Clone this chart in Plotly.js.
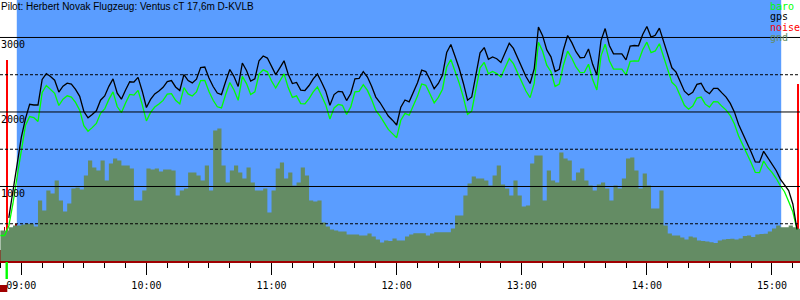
<!DOCTYPE html>
<html><head><meta charset="utf-8">
<script src="https://cdn.plot.ly/plotly-3.0.1.min.js"></script>
<style>html,body{margin:0;padding:0;background:#fff}#chart{width:800px;height:300px}</style>
</head><body><div id="chart"></div>
<script>
const chartTitle = 'Pilot: Herbert Novak Flugzeug: Ventus cT 17,6m D-KVLB';

const times = ["08:50","08:52","08:54","08:56","08:58",
"09:00","09:02","09:04","09:06","09:08","09:10","09:12","09:14","09:16","09:18","09:20","09:22","09:24","09:26","09:28","09:30","09:32","09:34","09:36","09:38","09:40","09:42","09:44","09:46","09:48","09:50","09:52","09:54","09:56","09:58",
"10:00","10:02","10:04","10:06","10:08","10:10","10:12","10:14","10:16","10:18","10:20","10:22","10:24","10:26","10:28","10:30","10:32","10:34","10:36","10:38","10:40","10:42","10:44","10:46","10:48","10:50","10:52","10:54","10:56","10:58",
"11:00","11:02","11:04","11:06","11:08","11:10","11:12","11:14","11:16","11:18","11:20","11:22","11:24","11:26","11:28","11:30","11:32","11:34","11:36","11:38","11:40","11:42","11:44","11:46","11:48","11:50","11:52","11:54","11:56","11:58",
"12:00","12:02","12:04","12:06","12:08","12:10","12:12","12:14","12:16","12:18","12:20","12:22","12:24","12:26","12:28","12:30","12:32","12:34","12:36","12:38","12:40","12:42","12:44","12:46","12:48","12:50","12:52","12:54","12:56","12:58",
"13:00","13:02","13:04","13:06","13:08","13:10","13:12","13:14","13:16","13:18","13:20","13:22","13:24","13:26","13:28","13:30","13:32","13:34","13:36","13:38","13:40","13:42","13:44","13:46","13:48","13:50","13:52","13:54","13:56","13:58",
"14:00","14:02","14:04","14:06","14:08","14:10","14:12","14:14","14:16","14:18","14:20","14:22","14:24","14:26","14:28","14:30","14:32","14:34","14:36","14:38","14:40","14:42","14:44","14:46","14:48","14:50","14:52","14:54","14:56","14:58",
"15:00","15:02","15:04","15:06","15:08","15:10","15:12","15:14"];

const gps = [null,null,578,957,1337,
1660,1912,2104,2094,2094,2437,2516,2475,2426,2267,2346,2387,2375,2303,2210,2006,1922,1965,2016,2158,2216,2344,2445,2253,2171,2296,2406,2402,2465,2279,
2060,2169,2242,2281,2331,2409,2422,2336,2288,2503,2422,2390,2440,2597,2603,2456,2342,2255,2234,2409,2570,2476,2342,2657,2556,2414,2445,2688,2751,2724,
2601,2501,2593,2687,2507,2382,2397,2293,2288,2355,2445,2510,2398,2280,2091,2234,2277,2269,2153,2248,2444,2452,2543,2469,2346,2200,2127,2041,1946,1890,
1825,2064,2161,2136,2271,2393,2561,2543,2432,2312,2382,2496,2798,2905,2747,2583,2386,2158,2201,2516,2793,2865,2707,2738,2715,2664,2794,2922,2853,2730,
2590,2476,2382,2583,3140,3024,2833,2740,2543,2574,2836,3026,2931,2809,2728,2732,2846,2640,2496,2958,3120,2892,2781,2779,2779,2699,2885,2892,2888,3040,
3147,3006,3029,3126,2954,2777,2593,2535,2417,2279,2228,2264,2371,2385,2285,2245,2318,2316,2256,2200,2115,1998,1832,1707,1604,1463,1329,1326,1472,1382,
1304,1215,1100,1027,946,765,423,null];

const baro = [342,342,470,772,1134,
1482,1818,1939,1926,1872,2261,2355,2305,2251,2087,2171,2217,2200,2128,2025,1816,1742,1790,1846,1983,2041,2169,2270,2073,1991,2121,2236,2227,2290,2099,
1880,1994,2067,2106,2156,2239,2247,2156,2108,2328,2242,2215,2270,2422,2423,2276,2157,2070,2054,2234,2395,2296,2157,2477,2381,2234,2270,2508,2566,2539,
2416,2321,2413,2512,2327,2197,2217,2113,2108,2180,2270,2335,2218,2095,1906,2054,2102,2089,1968,2068,2269,2277,2368,2289,2166,2020,1947,1861,1766,1710,
1655,1889,1981,1956,2091,2213,2376,2358,2242,2122,2197,2306,2603,2705,2547,2388,2196,1968,2011,2321,2593,2665,2512,2543,2515,2469,2594,2717,2648,2530,
2390,2281,2192,2388,2935,2814,2628,2540,2343,2374,2631,2816,2721,2604,2528,2532,2641,2435,2296,2753,2910,2687,2576,2579,2574,2499,2680,2687,2683,2835,
2937,2796,2819,2916,2749,2577,2398,2345,2227,2089,2038,2079,2186,2200,2105,2065,2138,2136,2076,2025,1950,1838,1677,1557,1454,1318,1189,1186,1342,1252,
1190,1110,1010,930,800,660,420,null];

const gnd = [409,409,454,476,476,
490,499,499,463,812,678,946,906,1080,812,664,772,973,986,960,1147,1349,1255,1214,1349,1080,1308,1376,1349,1282,1282,1241,812,812,946,
1241,1228,1241,1201,1228,1228,1214,879,946,973,1188,1188,1147,1080,1282,946,1751,1778,1282,1053,1214,1282,1188,1107,1255,1053,946,946,973,651,
946,1241,1322,1107,1188,1013,1053,1255,1147,812,798,812,517,463,423,409,396,396,356,356,356,342,342,369,329,289,248,275,268,302,
275,275,329,356,373,373,373,342,369,386,386,386,386,436,611,611,879,1040,1134,1107,1107,1080,1013,1147,1282,1027,973,879,1080,879,
731,745,1308,1416,1416,812,1214,1080,1053,1456,1376,1349,1080,1188,1241,1080,1013,946,1027,1053,973,812,1013,973,1107,1376,1389,1214,973,1174,
1013,705,705,946,476,369,342,342,315,289,329,315,275,268,262,252,242,275,289,295,298,289,302,336,342,322,356,362,365,396,
436,476,454,454,476,454,433,433];

const noiseTimes = ["08:50:16","08:50:53","08:51:22","08:51:51","08:52:20","08:53:00","08:53:37","08:54:15","08:54:55","08:55:32","08:57:28",
"09:54:11","10:34:57","13:08:53","14:46:14","15:09:06","15:10:04","15:11:02","15:11:45","15:12:36"];
const noise = [141,235,302,450,181,2704,248,275,208,141,503,34,87,20,114,100,127,87,141,2382];

const hourTicks = ["09:00","10:00","11:00","12:00","13:00","14:00","15:00"];
const solidLevels = [1000,2000,3000];
const dashedLevels = [500,1500,2500];
const legendNames = ["baro","gps","noise","gnd"];
const taskWindow = ["08:57:50","15:04:25"];
const takeoffTime = "08:53:00";
const xWindow = ["08:49:47","15:13:26"];
const yMax = 3503;

const C = {blue:'#5a9dff', gnd:'#648c64', baro:'#00ff00', gps:'#000000', noise:'#ff0000', noiseDark:'#a00000'};
const legendColors = [C.baro, C.gps, C.noise, C.gnd];

function toMin(s){const p=s.split(':').map(Number);return p[0]*60+p[1]+(p[2]||0)/60;}
const tx = times.map(toMin);
const r0 = toMin(xWindow[0]), r1 = toMin(xWindow[1]);
const mono = 'DejaVu Sans Mono, Liberation Mono, monospace';

const traces = [
 {type:'scatter', mode:'lines', x:tx, y:gnd, line:{shape:'hv', width:0, color:C.gnd}, fill:'tozeroy', fillcolor:C.gnd, hoverinfo:'skip'},
 {type:'bar', x:noiseTimes.map(toMin), y:noise, width:noise.map(v=>v>1000?0.9:0.6),
  marker:{color:noise.map(v=>v>1000?C.noise:C.noiseDark), line:{width:0}}},
 {type:'scatter', mode:'lines', x:tx, y:baro, line:{color:C.baro, width:1.3}},
 {type:'scatter', mode:'lines', x:tx, y:gps, line:{color:C.gps, width:1.3}}
];

const shapes = [
 {type:'rect', xref:'x', yref:'paper', x0:toMin(taskWindow[0]), x1:toMin(taskWindow[1]), y0:0, y1:1, fillcolor:C.blue, line:{width:0}, layer:'below'}
];
solidLevels.forEach(v=>shapes.push({type:'line', xref:'paper', yref:'y', x0:0, x1:1, y0:v, y1:v, line:{color:'#000', width:1}, layer:'above'}));
dashedLevels.forEach(v=>shapes.push({type:'line', xref:'paper', yref:'y', x0:0, x1:1, y0:v, y1:v, line:{color:'#000', width:1, dash:'3px,2px'}, layer:'above'}));
const pTake = (toMin(takeoffTime)-r0)/(r1-r0);
shapes.push({type:'rect', xref:'paper', yref:'paper', x0:pTake-1.2/800, x1:pTake+1.2/800, y0:-18/261, y1:-1/261, fillcolor:C.baro, line:{width:0}, layer:'above'});
shapes.push({type:'rect', xref:'paper', yref:'paper', x0:0, x1:7.3/800, y0:-31/261, y1:-24/261, fillcolor:C.noiseDark, line:{width:0}, layer:'above'});

const annotations = [
 {xref:'paper', yref:'paper', x:0, y:1, xanchor:'left', yanchor:'top', text:chartTitle, showarrow:false, borderpad:0,
  font:{family:'Liberation Sans, Arial, sans-serif', size:10, color:'#000'}}
];
solidLevels.forEach(v=>annotations.push({xref:'paper', yref:'y', x:0, y:v, xanchor:'left', yanchor:'top', yshift:-1, text:String(v), showarrow:false, borderpad:0,
  font:{family:mono, size:10, color:'#000'}}));
legendNames.forEach((n,i)=>annotations.push({xref:'paper', yref:'paper', x:769/800, y:1, xanchor:'left', yanchor:'top', yshift:-i*10.3, text:n, showarrow:false, borderpad:0,
  font:{family:mono, size:10, color:legendColors[i]}}));

const layout = {
 width:800, height:300, margin:{l:0, r:0, t:0, b:39},
 paper_bgcolor:'#fff', plot_bgcolor:'#fff', showlegend:false, bargap:0,
 xaxis:{type:'linear', range:[r0,r1], tickmode:'array', tickvals:hourTicks.map(toMin), ticktext:hourTicks,
   ticks:'outside', ticklen:12, tickwidth:1, tickcolor:'#000', showline:true, linecolor:C.noiseDark, linewidth:2,
   showgrid:false, zeroline:false, tickfont:{family:mono, size:10, color:'#000'}, ticklabelstandoff:2, fixedrange:true,
   minor:{tickmode:'linear', tick0:toMin(hourTicks[0]), dtick:10, ticks:'outside', ticklen:5, tickwidth:1, tickcolor:'#000', showgrid:false}},
 yaxis:{range:[0,yMax], showticklabels:false, ticks:'', showgrid:false, zeroline:false, showline:false, fixedrange:true},
 shapes:shapes, annotations:annotations
};
Plotly.newPlot('chart', traces, layout, {staticPlot:true, displayModeBar:false});
</script></body></html>
